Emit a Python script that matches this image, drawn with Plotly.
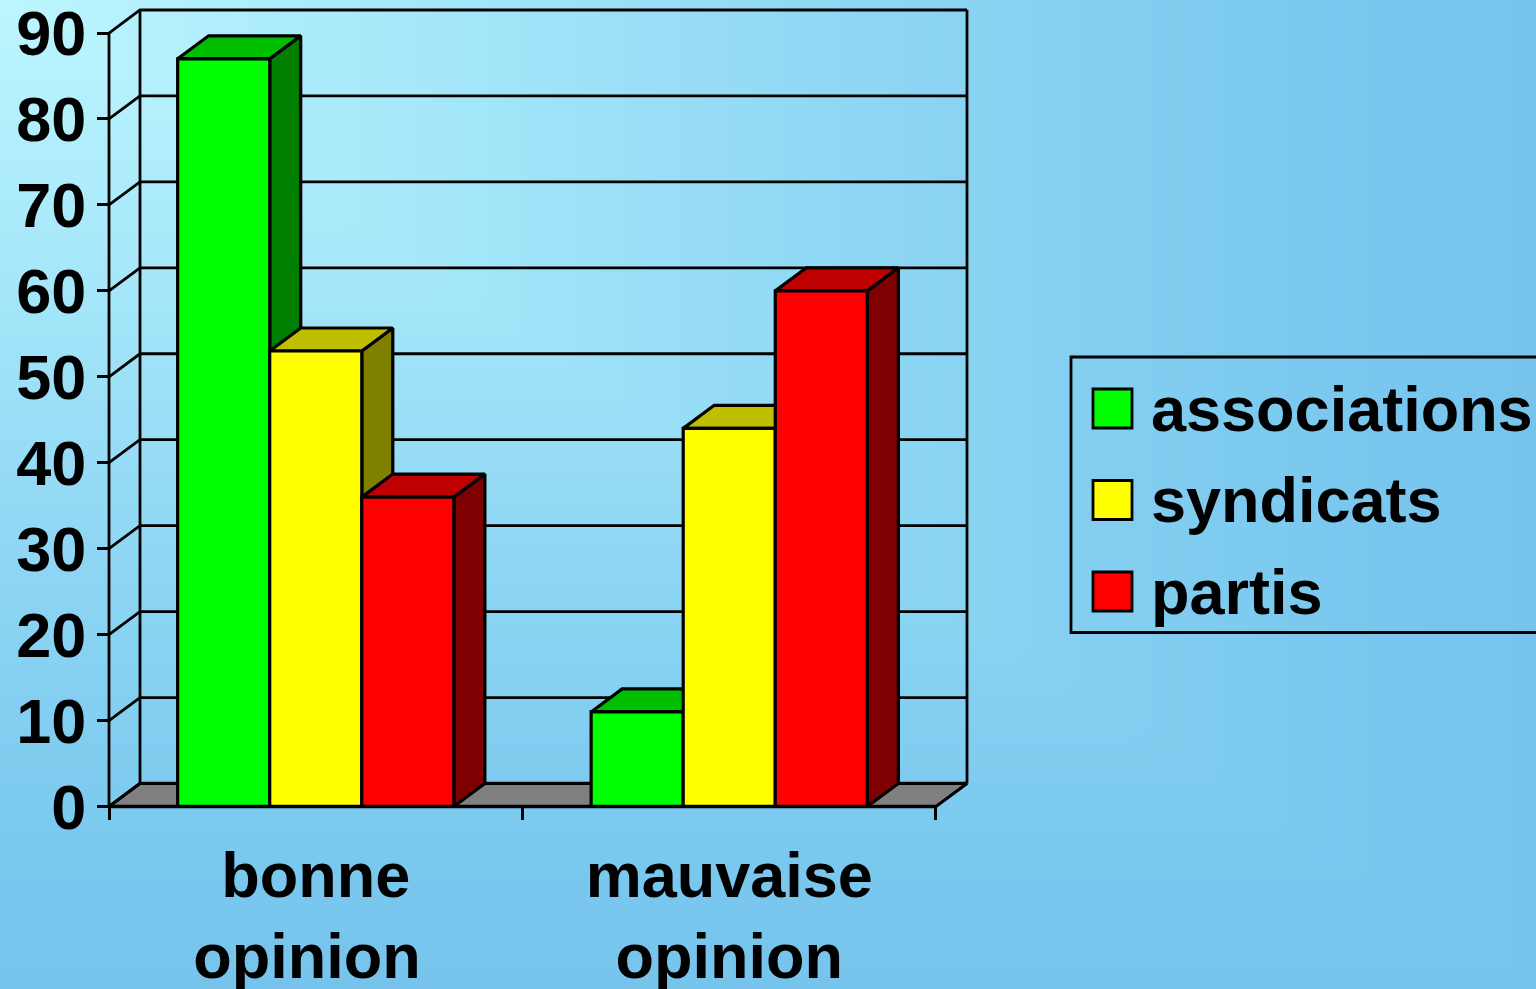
import numpy as np
import plotly.graph_objects as go

# ---- data ----
categories = ["bonne<br>opinion\u00a0", "mauvaise<br>opinion"]
series_names = ["associations", "syndicats", "partis"]
associations = [87, 11]
syndicats = [53, 44]
partis = [36, 60]
y_ticks = [0, 10, 20, 30, 40, 50, 60, 70, 80, 90]

# ---- style ----
front_colors = ["#00ff00", "#ffff00", "#ff0000"]
top_colors = ["#00bf00", "#bfbf00", "#bf0000"]
side_colors = ["#007f00", "#7f7f00", "#7f0000"]
W, H = 1536, 989
FONT = dict(family="Liberation Sans", size=63, color="black", weight=700)
BAR_GAP = 0.332
DX, DY = 0.075, 2.68          # depth of the 3-D box, in axis units
PLOT_L, PLOT_R, PLOT_T, PLOT_B = 109, 967, 10, 806.5
PAD = 5                       # px of room round the box, so its edge lines are not clipped
UX = (PLOT_R - PLOT_L) / (2 + DX)
UY = (PLOT_B - PLOT_T) / (90 + DY)
X_RANGE = [-PAD / UX, 2 + DX + PAD / UX]
Y_RANGE = [-PAD / UY, 90 + DY + PAD / UY]

fig = go.Figure()

# background gradient (rectangular, from the top-left corner)
gx = np.linspace(0, W, 65)
gy = np.linspace(0, H, 42)
gz = np.maximum.outer(gy / H, gx / W)
fig.add_trace(go.Heatmap(x=gx, y=gy, z=gz, zmin=0, zmax=1, zsmooth="best", showscale=False,
                         hoverinfo="skip", xaxis="x", yaxis="y",
                         colorscale=[[0, "#bcf6fe"], [0.3, "#a4e6f9"], [0.6, "#8bd4f3"],
                                     [0.85, "#7bc9ef"], [1, "#76c3ec"]]))

def poly(xs, ys, fill, ax, lw=3.2):
    fig.add_trace(go.Scatter(x=xs, y=ys, mode="lines", fill="toself", fillcolor=fill,
                             line=dict(color="black", width=lw), xaxis=ax[0], yaxis=ax[1],
                             hoverinfo="skip", showlegend=False))

def line(xs, ys, ax, lw=2.8):
    fig.add_trace(go.Scatter(x=xs, y=ys, mode="lines", line=dict(color="black", width=lw),
                             xaxis=ax[0], yaxis=ax[1], hoverinfo="skip", showlegend=False))

# walls and floor
wall = ("x2", "y2")
poly([0, DX, 2 + DX, 2, 0], [0, DY, DY, 0, 0], "#808080", wall)
for v in y_ticks:
    line([0, DX, 2 + DX], [v, v + DY, v + DY], wall)
line([DX, DX], [DY, 90 + DY], wall)
line([2 + DX, 2 + DX], [DY, 90 + DY], wall)
line([0, 0], [0, 90], wall)

# bar faces
values = [associations, syndicats, partis]
bw = (1 - BAR_GAP) / 3
faces = ("x3", "y3")
for s, vals in enumerate(values):
    for c, v in enumerate(vals):
        x0 = c + 0.5 + (s - 1.5) * bw
        x1 = x0 + bw
        poly([x1, x1 + DX, x1 + DX, x1, x1], [0, DY, v + DY, v, 0], side_colors[s], faces)
        poly([x0, x0 + DX, x1 + DX, x1, x0], [v, v + DY, v + DY, v, v], top_colors[s], faces)

# front faces
for s, vals in enumerate(values):
    fig.add_trace(go.Bar(x=[0.5, 1.5], y=vals, name=series_names[s], xaxis="x4", yaxis="y4",
                         marker=dict(color=front_colors[s], line=dict(color="black", width=3.2)),
                         showlegend=False, hoverinfo="x+y+name"))

# legend (drawn on the page-pixel axes)
lg_x, lg_y = [1112.5] * 3, [408.5, 500, 591.5]
fig.add_shape(type="rect", xref="x", yref="y", x0=1071, x1=1545, y0=357, y1=632.5,
              line=dict(color="black", width=2.8), fillcolor="rgba(0,0,0,0)")
for s, name in enumerate(series_names):
    fig.add_trace(go.Scatter(x=[lg_x[s]], y=[lg_y[s]], mode="markers", showlegend=False, hoverinfo="skip",
                             marker=dict(symbol="square", size=39, color=front_colors[s],
                                         line=dict(color="black", width=2.8)), xaxis="x", yaxis="y"))
    fig.add_annotation(x=1149, y=lg_y[s], xref="x", yref="y", text=name, showarrow=False,
                       xanchor="left", yanchor="middle", font=FONT)

hidden = dict(visible=False, fixedrange=True)
fig.update_layout(
    template="none",
    width=W, height=H, margin=dict(l=0, r=0, t=0, b=0), showlegend=False,
    paper_bgcolor="#7ac6ee", plot_bgcolor="rgba(0,0,0,0)",
    barmode="group", bargap=BAR_GAP, bargroupgap=0,
    xaxis=dict(hidden, domain=[0, 1], range=[0, W]),
    yaxis=dict(hidden, domain=[0, 1], range=[H, 0]),
    xaxis2=dict(domain=[(PLOT_L - PAD) / W, (PLOT_R + PAD) / W], range=X_RANGE, anchor="free", position=1 - PLOT_B / H,
                tickvals=[0, 1, 2], ticktext=["", "", ""], ticks="outside", ticklen=12, tickwidth=2.8,
                tickcolor="black", showgrid=False, zeroline=False, showline=False, fixedrange=True, automargin=False),
    yaxis2=dict(domain=[1 - (PLOT_B + PAD) / H, 1 - (PLOT_T - PAD) / H], range=Y_RANGE, anchor="free",
                position=PLOT_L / W, tickvals=y_ticks, ticks="outside", ticklen=12, tickwidth=2.8,
                tickcolor="black", tickfont=FONT, ticklabelstandoff=-2, ticklabeloverflow="allow",
                showgrid=False, zeroline=False, showline=False, fixedrange=True, automargin=False),
    xaxis3=dict(hidden, overlaying="x2", range=X_RANGE, anchor="y3"),
    yaxis3=dict(hidden, overlaying="y2", range=Y_RANGE, anchor="x3"),
    xaxis4=dict(overlaying="x2", range=X_RANGE, anchor="free", position=1 - PLOT_B / H, tickvals=[0.5, 1.5],
                ticktext=categories, tickfont=FONT, ticks="", ticklabelstandoff=26, ticklabeloverflow="allow",
                showgrid=False, zeroline=False, showline=False, fixedrange=True, automargin=False),
    yaxis4=dict(hidden, overlaying="y2", range=Y_RANGE, anchor="x4"),
)
# baseline over the bars
fig.add_shape(type="line", xref="x2", yref="y2", x0=0, x1=2, y0=0, y1=0, line=dict(color="black", width=3.5), layer="above")

fig.write_html("out.html", config=dict(displayModeBar=False),
               post_script="document.body.style.margin='0';document.documentElement.style.overflow='hidden';")
